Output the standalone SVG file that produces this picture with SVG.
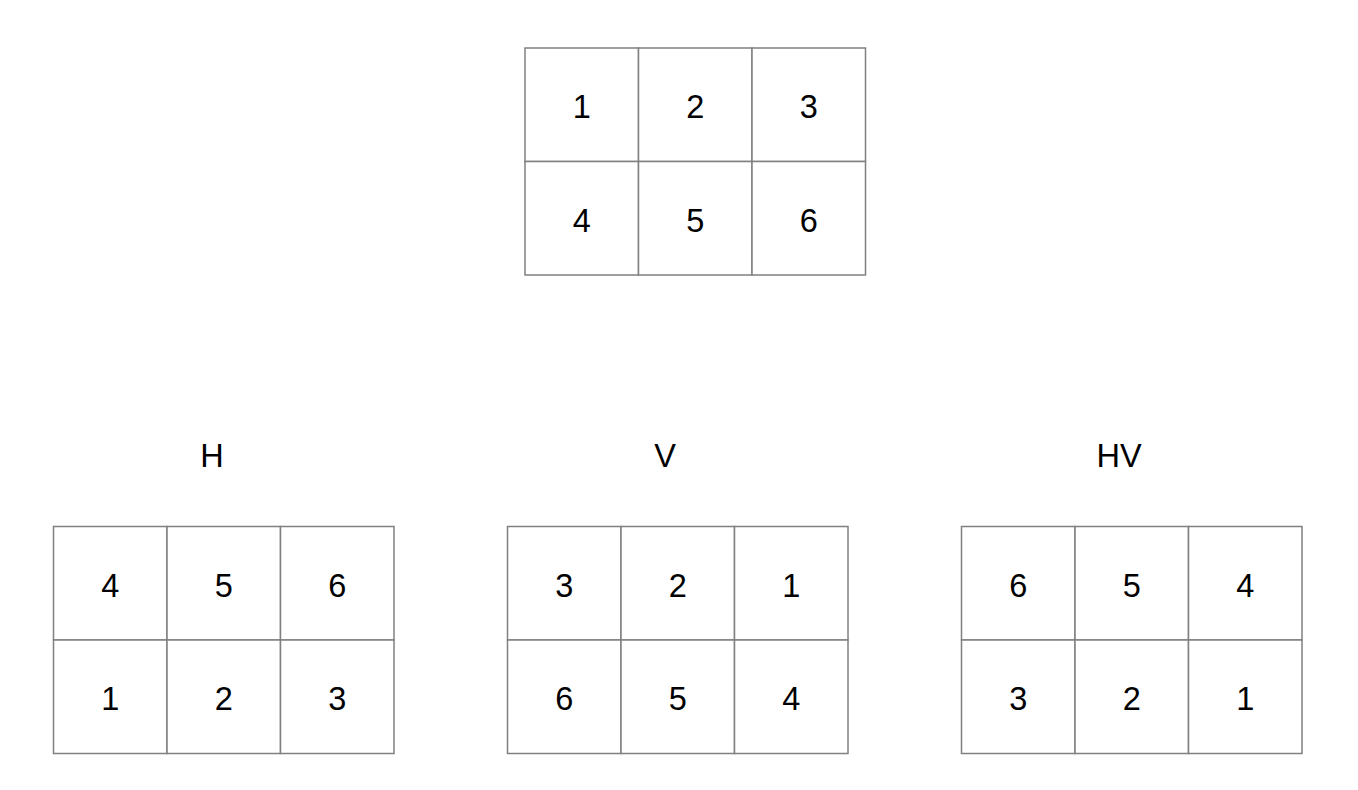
<svg xmlns="http://www.w3.org/2000/svg" width="1358" height="790" viewBox="0 0 1358 790">
<style>
.c{fill:#ffffff;stroke:#808080;stroke-width:1.5}
.t{font-family:"Liberation Sans",Arial,sans-serif;font-size:32.5px;fill:#000000;text-anchor:middle}
</style>
<rect x="0" y="0" width="1358" height="790" fill="#ffffff"/>
<g id="original">
<rect class="c" x="525" y="48" width="113.5" height="113.5"/>
<rect class="c" x="638.5" y="48" width="113.5" height="113.5"/>
<rect class="c" x="752" y="48" width="113.5" height="113.5"/>
<rect class="c" x="525" y="161.5" width="113.5" height="113.5"/>
<rect class="c" x="638.5" y="161.5" width="113.5" height="113.5"/>
<rect class="c" x="752" y="161.5" width="113.5" height="113.5"/>
<text class="t" x="581.75" y="118.3">1</text>
<text class="t" x="695.25" y="118.3">2</text>
<text class="t" x="808.75" y="118.3">3</text>
<text class="t" x="581.75" y="231.8">4</text>
<text class="t" x="695.25" y="231.8">5</text>
<text class="t" x="808.75" y="231.8">6</text>
</g>
<g id="grid-h">
<text class="t" x="212" y="467.3">H</text>
<rect class="c" x="53.5" y="526.5" width="113.5" height="113.5"/>
<rect class="c" x="167" y="526.5" width="113.5" height="113.5"/>
<rect class="c" x="280.5" y="526.5" width="113.5" height="113.5"/>
<rect class="c" x="53.5" y="640" width="113.5" height="113.5"/>
<rect class="c" x="167" y="640" width="113.5" height="113.5"/>
<rect class="c" x="280.5" y="640" width="113.5" height="113.5"/>
<text class="t" x="110.25" y="596.8">4</text>
<text class="t" x="223.75" y="596.8">5</text>
<text class="t" x="337.25" y="596.8">6</text>
<text class="t" x="110.25" y="710.3">1</text>
<text class="t" x="223.75" y="710.3">2</text>
<text class="t" x="337.25" y="710.3">3</text>
</g>
<g id="grid-v">
<text class="t" x="665" y="467.3">V</text>
<rect class="c" x="507.5" y="526.5" width="113.5" height="113.5"/>
<rect class="c" x="621" y="526.5" width="113.5" height="113.5"/>
<rect class="c" x="734.5" y="526.5" width="113.5" height="113.5"/>
<rect class="c" x="507.5" y="640" width="113.5" height="113.5"/>
<rect class="c" x="621" y="640" width="113.5" height="113.5"/>
<rect class="c" x="734.5" y="640" width="113.5" height="113.5"/>
<text class="t" x="564.25" y="596.8">3</text>
<text class="t" x="677.75" y="596.8">2</text>
<text class="t" x="791.25" y="596.8">1</text>
<text class="t" x="564.25" y="710.3">6</text>
<text class="t" x="677.75" y="710.3">5</text>
<text class="t" x="791.25" y="710.3">4</text>
</g>
<g id="grid-hv">
<text class="t" x="1119" y="467.3">HV</text>
<rect class="c" x="961.5" y="526.5" width="113.5" height="113.5"/>
<rect class="c" x="1075" y="526.5" width="113.5" height="113.5"/>
<rect class="c" x="1188.5" y="526.5" width="113.5" height="113.5"/>
<rect class="c" x="961.5" y="640" width="113.5" height="113.5"/>
<rect class="c" x="1075" y="640" width="113.5" height="113.5"/>
<rect class="c" x="1188.5" y="640" width="113.5" height="113.5"/>
<text class="t" x="1018.25" y="596.8">6</text>
<text class="t" x="1131.75" y="596.8">5</text>
<text class="t" x="1245.25" y="596.8">4</text>
<text class="t" x="1018.25" y="710.3">3</text>
<text class="t" x="1131.75" y="710.3">2</text>
<text class="t" x="1245.25" y="710.3">1</text>
</g>
<g id="connectors"/>
</svg>
